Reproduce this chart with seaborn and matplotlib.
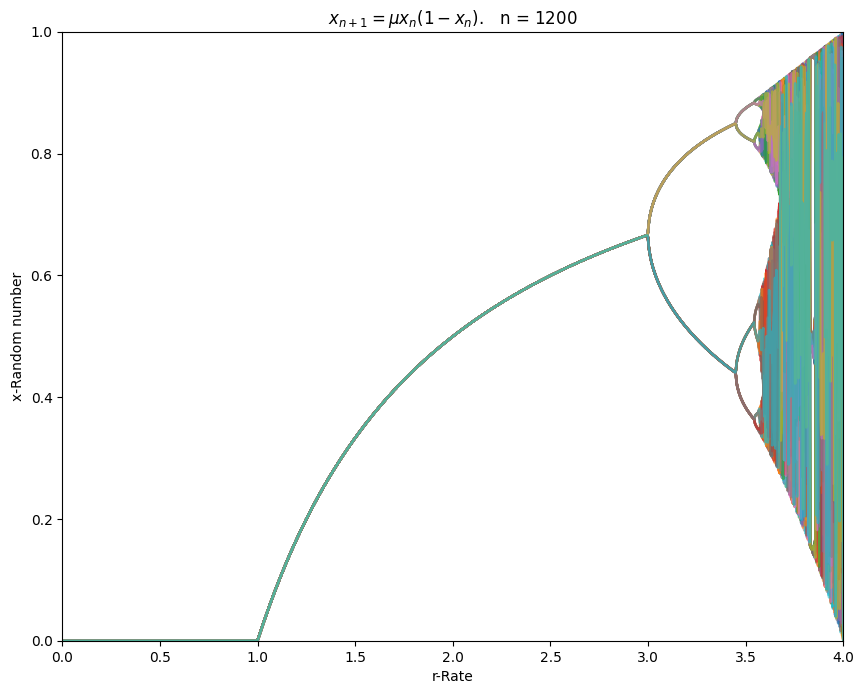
import numpy as np
import pandas as pd
import matplotlib
matplotlib.use("Agg")
import matplotlib.pyplot as plt
import seaborn as sns

# Model parameters shown in the chart (logistic map, n = 1200)
r_min, r_max = 0.0, 4.0
n_rates = 1200
n_iter = 1200
n_shown = 60
x0 = 0.5

rates = np.linspace(r_min, r_max, n_rates)
x = np.full(n_rates, x0)
rows = []
for i in range(n_iter):
    x = rates * x * (1 - x)
    if i >= n_iter - n_shown:
        rows.append(pd.DataFrame({"r": rates, "x": x, "it": i}))
df = pd.concat(rows, ignore_index=True)

fig, ax = plt.subplots(figsize=(8.65, 6.95), dpi=100)
fig.subplots_adjust(left=0.072, right=0.975, bottom=0.078, top=0.954)
pal = sns.color_palette("tab10", n_shown)
sns.lineplot(data=df, x="r", y="x", hue="it", palette=pal, estimator=None,
             sort=False, legend=False, linewidth=1.8, alpha=0.6, ax=ax)
ax.set_xlim(0, 4)
ax.set_ylim(0, 1)
ax.set_xlabel("r-Rate")
ax.set_ylabel("x-Random number")
ax.set_title(r"$x_{n+1} = \mu x_n(1-x_n)$.   n = 1200")
fig.savefig("out.png", dpi=100)
